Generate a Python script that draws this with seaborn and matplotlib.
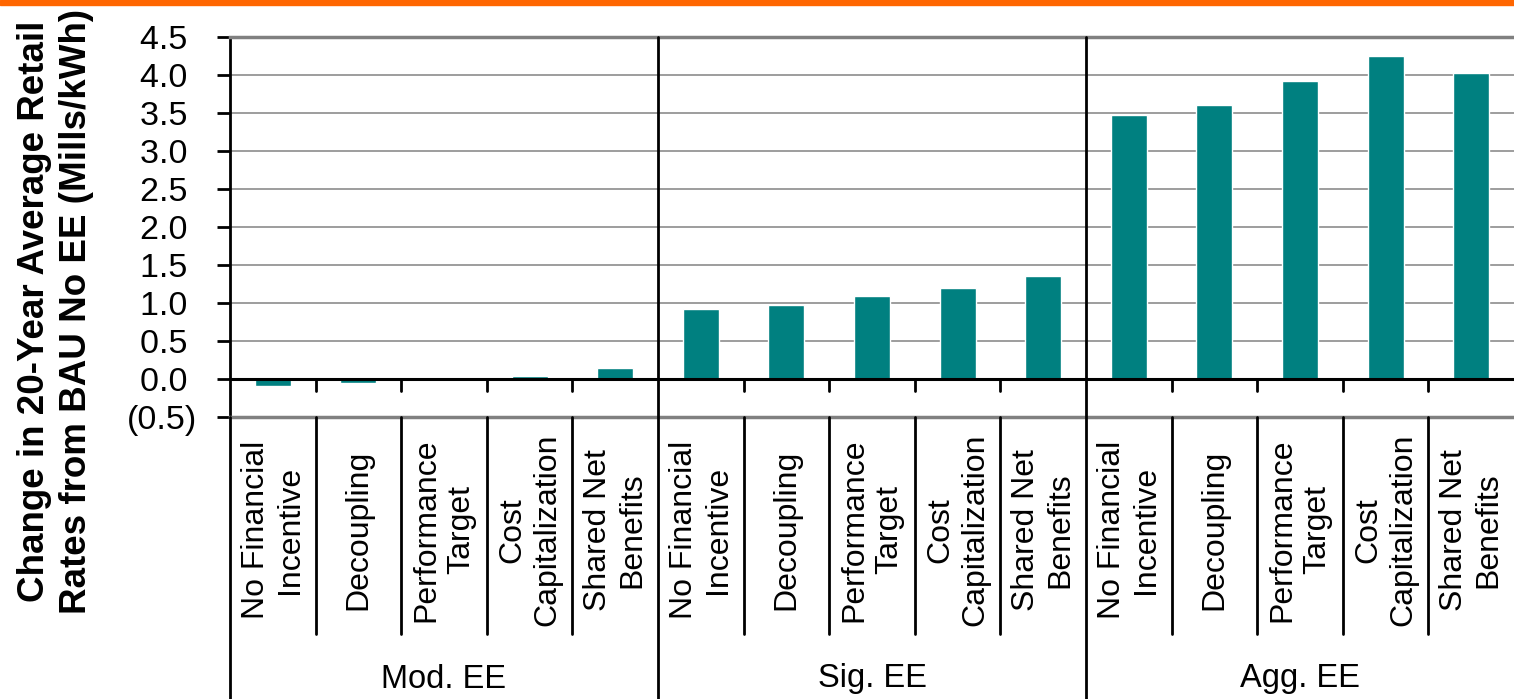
import matplotlib
matplotlib.use("Agg")
import matplotlib.pyplot as plt
import matplotlib.transforms as mtransforms
from matplotlib.ticker import FuncFormatter
import seaborn as sns
import pandas as pd

groups = ["Mod. EE", "Sig. EE", "Agg. EE"]
mechanisms = ["No Financial\nIncentive", "Decoupling", "Performance\nTarget",
              "Cost\nCapitalization", "Shared Net\nBenefits"]
mod_ee = [-0.09, -0.05, -0.01, 0.04, 0.14]
sig_ee = [0.92, 0.98, 1.09, 1.20, 1.36]
agg_ee = [3.48, 3.61, 3.92, 4.25, 4.02]
y_ticks = [-0.5, 0.0, 0.5, 1.0, 1.5, 2.0, 2.5, 3.0, 3.5, 4.0, 4.5]
y_label = "Change in 20-Year Average Retail\nRates from BAU No EE (Mills/kWh)"

rows = []
for g, vals in zip(groups, [mod_ee, sig_ee, agg_ee]):
    for m, v in zip(mechanisms, vals):
        rows.append({"key": f"{g}|{m}", "group": g, "mech": m, "value": v})
df = pd.DataFrame(rows)

sns.set_theme(style="white")
plt.rcParams["font.family"] = ["Liberation Sans", "DejaVu Sans"]

W, H = 1514, 699
fig = plt.figure(figsize=(W / 100, H / 100), dpi=100)
ax_left, ax_right, ax_top, ax_bot = 230, 1514, 37, 417
ax = fig.add_axes([ax_left / W, 1 - ax_bot / H, (ax_right - ax_left) / W, (ax_bot - ax_top) / H])

teal = "#008080"
sns.barplot(data=df, x="key", y="value", order=list(df["key"]), color=teal,
            width=0.42, ax=ax, saturation=1, errorbar=None)

n = len(df)
ax.set_xlim(-0.5, n - 0.5)
ax.set_ylim(-0.5, 4.5)
ax.set_yticks(y_ticks)
ax.yaxis.set_major_formatter(FuncFormatter(lambda v, p: f"({abs(v):.1f})" if v < -1e-9 else f"{abs(v):.1f} "))
ax.tick_params(axis="y", which="major", left=True, length=9.4, width=2, color="black",
               labelsize=24.5, pad=14.4, labelcolor="black")
ax.grid(axis="y", color="#8c8c8c", linewidth=1.2)
ax.set_axisbelow(True)
ax.axhline(0, color="black", linewidth=2.2, zorder=3)

for s in ["top", "bottom"]:
    ax.spines[s].set_color("#808080")
    ax.spines[s].set_linewidth(2.5)
ax.spines["right"].set_visible(False)
ax.spines["left"].set_color("black")
ax.spines["left"].set_linewidth(2)

# category tick labels
ax.set_xticks(range(n))
ax.set_xticklabels(list(df["mech"]), rotation=90, ha="center", va="center",
                   multialignment="center", fontsize=23, color="black")
ax.tick_params(axis="x", length=0, pad=(530 - ax_bot) * 0.72)
ax.set_xlabel("")
ax.set_ylabel("")

trans = mtransforms.blended_transform_factory(ax.transData, ax.transAxes)
ax_h = ax_bot - ax_top
def ypix(p):
    return (ax_bot - p) / ax_h

# separators
for k in range(n - 1):
    xb = k + 0.5
    if (k + 1) % 5 == 0:
        ax.plot([xb, xb], [1, ypix(H + 5)], transform=trans, color="black", lw=2,
                clip_on=False, zorder=4)
    else:
        ax.plot([xb, xb], [ypix(380), ypix(391)], transform=trans, color="black", lw=2,
                clip_on=False, zorder=4)
        ax.plot([xb, xb], [0, ypix(634)], transform=trans, color="black", lw=2,
                clip_on=False, zorder=4)
ax.plot([-0.5, -0.5], [0, ypix(H + 5)], transform=trans, color="black", lw=2,
        clip_on=False, zorder=4)

# group labels
for i, g in enumerate(groups):
    ax.text(i * 5 + 2, ypix(679), g, transform=trans, ha="center", va="center",
            fontsize=23.5, color="black")

# y label
fig.text(55.5 / W, 1 - 311 / H, y_label, rotation=90, ha="center", va="center",
         multialignment="center", fontsize=26.5, fontweight="bold", color="black",
         linespacing=1.25)

# orange top band
fig.patches.append(plt.Rectangle((0, 1 - 5 / H), 1, 5 / H, transform=fig.transFigure,
                                 color="#FF6600", zorder=10))

fig.savefig("out.png", dpi=100)
